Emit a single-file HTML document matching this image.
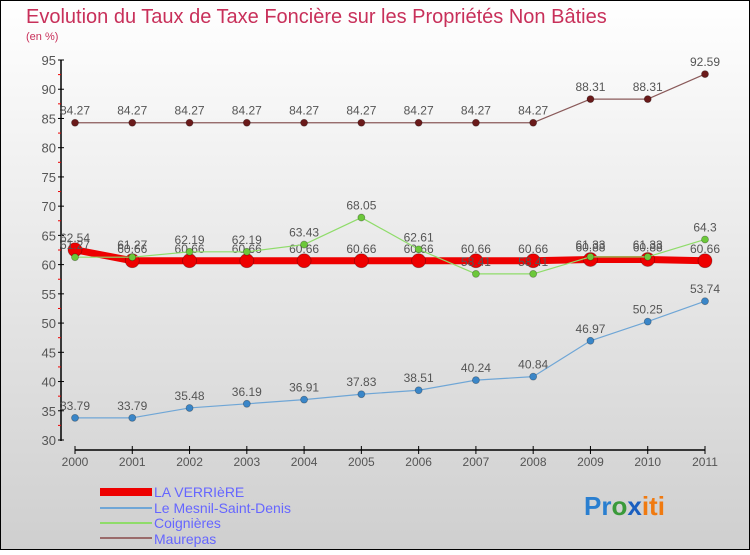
<!DOCTYPE html>
<html><head><meta charset="utf-8"><style>
html,body{margin:0;padding:0}
body{width:750px;height:550px;overflow:hidden;font-family:"Liberation Sans",sans-serif}
svg text{font-family:"Liberation Sans",sans-serif}
</style></head><body>
<svg width="750" height="550" viewBox="0 0 750 550">
<defs><linearGradient id="bg" x1="0" y1="0" x2="0" y2="1"><stop offset="0" stop-color="#ffffff"/><stop offset="1" stop-color="#cfcfcf"/></linearGradient></defs>
<rect x="0.5" y="0.5" width="749" height="549" fill="url(#bg)" stroke="#000"/>
<text x="26" y="23" font-size="20" fill="#c8305a">Evolution du Taux de Taxe Foncière sur les Propriétés Non Bâties</text>
<text x="26" y="40" font-size="11" fill="#c8305a">(en %)</text>
<g id="axes"></g>
<g id="series"></g>
<g id="legend">
<rect x="100" y="488" width="52" height="8" fill="#e00"/>
<text x="154" y="497" font-size="14" fill="#66f">LA VERRIèRE</text>
<line x1="100" y1="508" x2="152" y2="508" stroke="#6fa6d6" stroke-width="2"/>
<text x="154" y="513" font-size="14" fill="#66f">Le Mesnil-Saint-Denis</text>
<line x1="100" y1="523" x2="152" y2="523" stroke="#8fdc6a" stroke-width="2"/>
<text x="154" y="528" font-size="14" fill="#66f">Coignières</text>
<line x1="100" y1="538" x2="152" y2="538" stroke="#9a6b6b" stroke-width="2"/>
<text x="154" y="544" font-size="14" fill="#66f">Maurepas</text>
</g>
<text x="584" y="515" font-size="26" font-weight="bold"><tspan fill="#2a7fd0">Pr</tspan><tspan fill="#3a9a3a">o</tspan><tspan fill="#1a5fc0">x</tspan><tspan fill="#f07a10">iti</tspan></text>
</svg>
<script>
const years=[2000,2001,2002,2003,2004,2005,2006,2007,2008,2009,2010,2011];
const yTicks=[30,35,40,45,50,55,60,65,70,75,80,85,90,95];
const verriere=[62.54,60.66,60.66,60.66,60.66,60.66,60.66,60.66,60.66,60.88,60.88,60.66];
const mesnil=[33.79,33.79,35.48,36.19,36.91,37.83,38.51,40.24,40.84,46.97,50.25,53.74];
const coignieres=[61.27,61.27,62.19,62.19,63.43,68.05,62.61,58.41,58.41,61.33,61.33,64.3];
const maurepas=[84.27,84.27,84.27,84.27,84.27,84.27,84.27,84.27,84.27,88.31,88.31,92.59];
const NS="http://www.w3.org/2000/svg";
const X=i=>75+i*(630/11);
const Y=v=>440-(v-30)*(380/65);
function mk(tag,attrs,parent,txt){const e=document.createElementNS(NS,tag);for(const k in attrs)e.setAttribute(k,attrs[k]);if(txt!==undefined)e.textContent=txt;parent.appendChild(e);return e;}
const ax=document.getElementById('axes');
let yl=mk('line',{x1:61,y1:60,x2:61,y2:441,stroke:'#000','stroke-width':1.5},ax);


yTicks.forEach(t=>{
  mk('line',{x1:58,y1:Y(t),x2:64,y2:Y(t),stroke:'#000'},ax);
  if(t<95)mk('line',{x1:58,y1:Y(t+2.5),x2:61,y2:Y(t+2.5),stroke:'#e00'},ax);
  let tx=mk('text',{x:56,y:Y(t)+5,'font-size':13,fill:'#555','text-anchor':'end'},ax,t);
  
  
});
let xl=mk('line',{x1:75,y1:450,x2:705,y2:450,stroke:'#000','stroke-width':1.5},ax);


years.forEach((y,i)=>{
  mk('line',{x1:X(i),y1:446,x2:X(i),y2:454,stroke:'#000'},ax);
  let tx=mk('text',{x:X(i),y:466,'font-size':12,fill:'#555','text-anchor':'middle'},ax,y);
  
  
});
const sg=document.getElementById('series');
function series(vals,color,dot,w,r,name){
  const g=mk('g',{},sg);
  
  
  mk('polyline',{points:vals.map((v,i)=>X(i)+','+Y(v)).join(' '),fill:'none',stroke:color,'stroke-width':w,'stroke-linejoin':'round'},g);
  vals.forEach((v,i)=>{
    const c=mk('circle',{cx:X(i),cy:Y(v),r:r,fill:dot,stroke:'rgba(0,0,0,0.3)','stroke-width':0.8},g);
    
    
    const t=mk('text',{x:X(i),y:Y(v)-8,'font-size':12,fill:'#555','text-anchor':'middle'},g,String(v));
    
    
  });
}
series(maurepas,'#8a5a5a','#6a1a1a',1.2,3.5,'series-maurepas');
series(mesnil,'#6fa6d6','#3a86c8',1.2,3.5,'series-le-mesnil');
series(verriere,'#ee0000','#ee0000',7,7,'series-la-verriere');
series(coignieres,'#8fdc6a','#6cc83a',1.2,3.5,'series-coignieres');
</script>
</body></html>
